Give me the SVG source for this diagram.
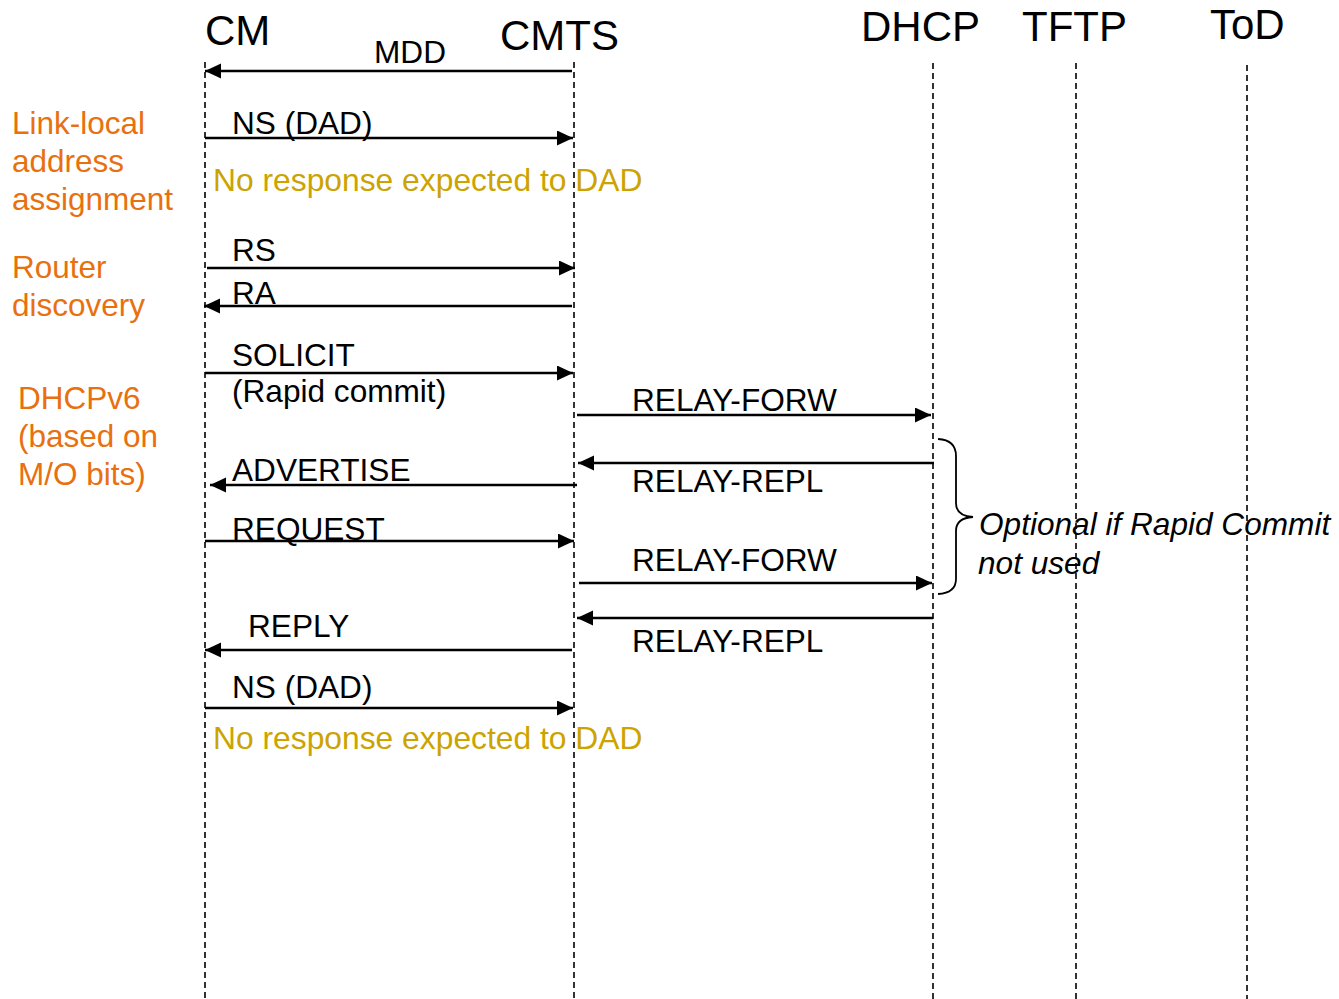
<svg xmlns="http://www.w3.org/2000/svg" width="1339" height="999" viewBox="0 0 1339 999">
  <style>
    .hdr { font-family: "Liberation Sans", Arial, sans-serif; font-size: 42px; fill: #000; }
    .msg { font-family: "Liberation Sans", Arial, sans-serif; font-size: 31.6px; fill: #000; }
    .phase { font-family: "Liberation Sans", Arial, sans-serif; font-size: 31.5px; fill: #E8700E; }
    .note { font-family: "Liberation Sans", Arial, sans-serif; font-size: 31.8px; fill: #CCA300; }
    .opt { font-family: "Liberation Sans", Arial, sans-serif; font-size: 31.6px; font-style: italic; fill: #000; }
    .life { stroke: #000; stroke-width: 1.6; stroke-dasharray: 6 4; fill: none; }
    .arrow { stroke: #000; stroke-width: 2.6; fill: none; marker-end: url(#head); }
  </style>
  <defs>
    <marker id="head" markerUnits="userSpaceOnUse" markerWidth="17" markerHeight="16" refX="16" refY="7.5" orient="auto">
      <path d="M0,0 L16,7.5 L0,15 z" fill="#000"/>
    </marker>
  </defs>
  <rect width="1339" height="999" fill="#fff"/>

  <!-- participants and lifelines -->
  <g id="cm">
    <text class="hdr" x="205" y="45">CM</text>
    <line class="life" x1="205" y1="62" x2="205" y2="999"/>
  </g>
  <g id="cmts">
    <text class="hdr" x="500" y="50">CMTS</text>
    <line class="life" x1="574" y1="62" x2="574" y2="999"/>
  </g>
  <g id="dhcp">
    <text class="hdr" x="861" y="41">DHCP</text>
    <line class="life" x1="933" y1="63" x2="933" y2="999"/>
  </g>
  <g id="tftp">
    <text class="hdr" x="1022" y="41">TFTP</text>
    <line class="life" x1="1076" y1="63" x2="1076" y2="999"/>
  </g>
  <g id="tod">
    <text class="hdr" x="1210" y="39">ToD</text>
    <line class="life" x1="1247" y1="65" x2="1247" y2="999"/>
  </g>

  <!-- phase labels -->
  <g id="phase-linklocal">
    <text class="phase" x="12" y="134">Link-local</text>
    <text class="phase" x="12" y="172">address</text>
    <text class="phase" x="12" y="210">assignment</text>
  </g>
  <g id="phase-router">
    <text class="phase" x="12" y="278">Router</text>
    <text class="phase" x="12" y="316">discovery</text>
  </g>
  <g id="phase-dhcpv6">
    <text class="phase" x="18" y="409">DHCPv6</text>
    <text class="phase" x="18" y="447">(based on</text>
    <text class="phase" x="18" y="485">M/O bits)</text>
  </g>

  <!-- messages -->
  <g id="connectors">
    <line class="arrow" x1="572" y1="71" x2="205" y2="71"/>
    <line class="arrow" x1="205" y1="138" x2="573" y2="138"/>
    <line class="arrow" x1="207" y1="268" x2="575" y2="268"/>
    <line class="arrow" x1="572" y1="306" x2="204" y2="306"/>
    <line class="arrow" x1="205" y1="373" x2="573" y2="373"/>
    <line class="arrow" x1="577" y1="415" x2="931" y2="415"/>
    <line class="arrow" x1="934" y1="463" x2="578" y2="463"/>
    <line class="arrow" x1="577" y1="485" x2="210" y2="485"/>
    <line class="arrow" x1="205" y1="541" x2="574" y2="541"/>
    <line class="arrow" x1="579" y1="583" x2="932" y2="583"/>
    <line class="arrow" x1="933" y1="618" x2="577" y2="618"/>
    <line class="arrow" x1="572" y1="650" x2="205" y2="650"/>
    <line class="arrow" x1="205" y1="708" x2="573" y2="708"/>
    <!-- brace grouping the optional exchange -->
    <path d="M938,439 Q956,440 956,456 L956,503 Q956,516 973,517 Q956,518 956,531 L956,579 Q956,593 938,594" fill="none" stroke="#000" stroke-width="1.8"/>
  </g>

  <!-- message labels -->
  <g id="labels">
    <text class="msg" x="374" y="63" font-size="30.5">MDD</text>
    <text class="msg" x="232" y="134">NS (DAD)</text>
    <text class="note" x="213" y="191">No response expected to DAD</text>
    <text class="msg" x="232" y="261">RS</text>
    <text class="msg" x="232" y="304">RA</text>
    <text class="msg" x="232" y="366">SOLICIT</text>
    <text class="msg" x="232" y="402">(Rapid commit)</text>
    <text class="msg" x="632" y="411">RELAY-FORW</text>
    <text class="msg" x="632" y="492">RELAY-REPL</text>
    <text class="msg" x="232" y="481">ADVERTISE</text>
    <text class="msg" x="232" y="540">REQUEST</text>
    <text class="msg" x="632" y="571">RELAY-FORW</text>
    <text class="msg" x="632" y="652">RELAY-REPL</text>
    <text class="msg" x="248" y="637">REPLY</text>
    <text class="msg" x="232" y="698">NS (DAD)</text>
    <text class="note" x="213" y="749">No response expected to DAD</text>
    <text class="opt" x="979" y="535">Optional if Rapid Commit</text>
    <text class="opt" x="978" y="574">not used</text>
  </g>
</svg>
